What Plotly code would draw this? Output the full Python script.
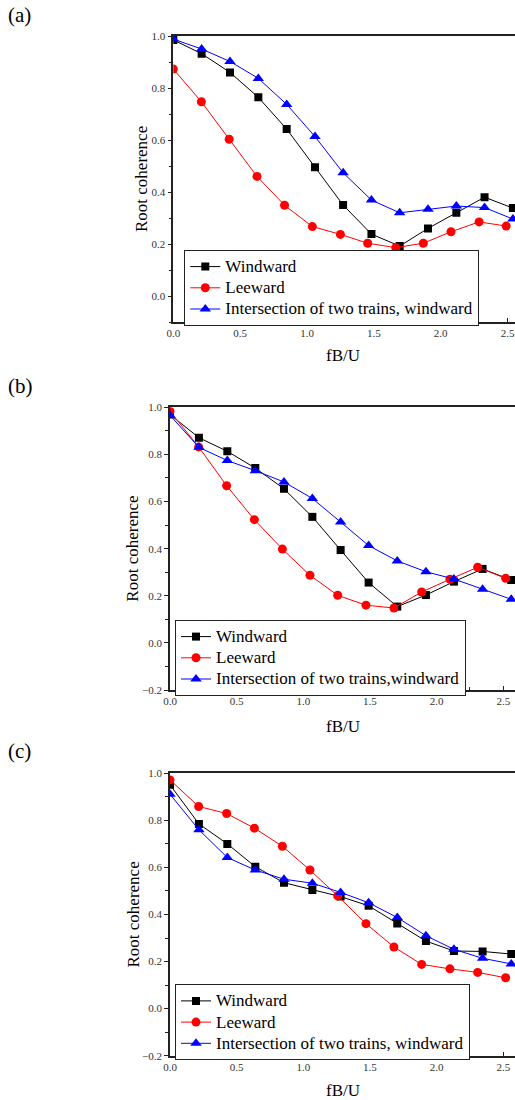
import plotly.graph_objects as go

# ---------------- data ----------------
# Panel (a)
xa_w = [0.0, 0.212, 0.424, 0.636, 0.848, 1.060, 1.270, 1.482, 1.693, 1.905, 2.117, 2.328, 2.540]
ya_w = [0.985, 0.932, 0.860, 0.764, 0.642, 0.495, 0.350, 0.238, 0.192, 0.260, 0.320, 0.380, 0.338]
xa_l = [0.0, 0.210, 0.418, 0.626, 0.832, 1.040, 1.250, 1.454, 1.664, 1.870, 2.077, 2.287, 2.490]
ya_l = [0.873, 0.747, 0.603, 0.460, 0.349, 0.267, 0.237, 0.203, 0.186, 0.203, 0.247, 0.285, 0.269]
xa_i = xa_w
ya_i = [0.988, 0.950, 0.902, 0.837, 0.737, 0.613, 0.474, 0.369, 0.320, 0.334, 0.346, 0.340, 0.296]

# Panel (b)
xb_w = [0.0, 0.217, 0.430, 0.640, 0.855, 1.068, 1.280, 1.490, 1.705, 1.920, 2.130, 2.345, 2.560]
yb_w = [0.969, 0.871, 0.813, 0.742, 0.654, 0.535, 0.394, 0.256, 0.154, 0.203, 0.260, 0.314, 0.267]
xb_l = [0.0, 0.215, 0.425, 0.633, 0.843, 1.050, 1.258, 1.470, 1.680, 1.888, 2.100, 2.308, 2.518]
yb_l = [0.983, 0.832, 0.667, 0.523, 0.398, 0.287, 0.202, 0.160, 0.148, 0.216, 0.270, 0.321, 0.274]
xb_i = xb_w
yb_i = [0.966, 0.830, 0.774, 0.731, 0.683, 0.613, 0.513, 0.413, 0.348, 0.302, 0.271, 0.228, 0.185]

# Panel (c)
xc_w = xb_w
yc_w = [0.951, 0.785, 0.700, 0.603, 0.535, 0.504, 0.476, 0.437, 0.362, 0.287, 0.245, 0.243, 0.232]
xc_l = xb_l
yc_l = [0.972, 0.859, 0.829, 0.767, 0.690, 0.589, 0.479, 0.361, 0.262, 0.188, 0.169, 0.154, 0.131]
xc_i = xb_w
yc_i = [0.911, 0.760, 0.642, 0.589, 0.550, 0.533, 0.494, 0.450, 0.387, 0.310, 0.252, 0.214, 0.190]

names_a = ["Windward", "Leeward", "Intersection of two trains, windward"]
names_b = ["Windward", "Leeward", "Intersection of two trains,windward"]
names_c = ["Windward", "Leeward", "Intersection of two trains, windward"]
panel_labels = ["(a)", "(b)", "(c)"]
x_title = "fB/U"
y_title = "Root coherence"

# ---------------- styling ----------------
W, H = 515, 1100
FONT = "Liberation Serif"
colors = ["#000000", "#ff0000", "#0000ff"]
symbols = ["square", "circle", "triangle-up"]
msizes = [8, 9, 10]

fig = go.Figure()

panels = [
    (xa_w, ya_w, xa_l, ya_l, xa_i, ya_i, names_a),
    (xb_w, yb_w, xb_l, yb_l, xb_i, yb_i, names_b),
    (xc_w, yc_w, xc_l, yc_l, xc_i, yc_i, names_c),
]

# pixel geometry of each plot area: (left, top, bottom, xmax, ymin)
geom = [
    (173.3, 36.0, 322.0, (515 - 173.3) / 133.7, -0.1),
    (170.0, 407.3, 690.0, (515 - 170.0) / 133.3, -0.2),
    (170.0, 773.3, 1055.7, (515 - 170.0) / 133.3, -0.2),
]
legend_pos = [(184.3, 250.0), (175.0, 620.0), (175.0, 984.3)]
label_y = [15, 386, 751]
xtitle_y = [355, 726, 1090]
ytitle_x = [141, 133, 133]

for p, (xw, yw, xl, yl, xi, yi, names) in enumerate(panels):
    sfx = "" if p == 0 else str(p + 1)
    leg = "legend" if p == 0 else "legend" + str(p + 1)
    series = [(xw, yw), (xl, yl), (xi, yi)]
    for k, (xs, ys) in enumerate(series):
        fig.add_trace(go.Scatter(
            x=xs, y=ys, mode="lines+markers",
            name='<span style="font-size:17px">' + names[k] + "</span>",
            line=dict(color=colors[k], width=1),
            marker=dict(symbol=symbols[k], size=msizes[k], color=colors[k]),
            xaxis="x" + sfx, yaxis="y" + sfx, legend=leg,
        ))
    left, top, bottom, xmax, ymin = geom[p]
    axis_common = dict(showgrid=False, zeroline=False, showline=True,
                       linecolor="#222222", linewidth=1.5, automargin=False,
                       tickfont=dict(family=FONT, size=11, color="#333333"),
                       tickcolor="#222222", tickformat=".1f")
    fig.layout["xaxis" + sfx] = dict(
        axis_common, domain=[left / W, 1.0], range=[0, xmax],
        anchor="y" + sfx, mirror=True, ticks="inside", ticklen=4,
        tick0=0, dtick=0.5,
        minor=dict(ticks="inside", ticklen=3, dtick=0.25, tick0=0, tickcolor="#222222"),
    )
    fig.layout["yaxis" + sfx] = dict(
        axis_common, domain=[1 - bottom / H, 1 - top / H], range=[ymin, 1.0],
        anchor="x" + sfx, ticks="outside", ticklen=4, tick0=0, dtick=0.2,
        minor=dict(ticks="outside", ticklen=3, dtick=0.1, tick0=0, tickcolor="#222222"),
    )
    lx, ly = legend_pos[p]
    fig.layout[leg] = dict(
        x=lx / W, y=1 - ly / H, xanchor="left", yanchor="top",
        bordercolor="#222222", borderwidth=1, bgcolor="white",
        font=dict(family=FONT, size=14, color="black"),
        tracegroupgap=0,
    )
    fig.add_annotation(text=panel_labels[p], xref="paper", yref="paper",
                       x=6 / W, y=1 - label_y[p] / H, xanchor="left", yanchor="middle",
                       showarrow=False, font=dict(family=FONT, size=21, color="black"))
    fig.add_annotation(text=x_title, xref="paper", yref="paper",
                       x=343 / W, y=1 - xtitle_y[p] / H, xanchor="center", yanchor="middle",
                       showarrow=False, font=dict(family=FONT, size=17, color="black"))
    fig.add_annotation(text=y_title, xref="paper", yref="paper",
                       x=ytitle_x[p] / W, y=1 - (top + bottom) / 2 / H,
                       xanchor="center", yanchor="middle", textangle=-90,
                       showarrow=False, font=dict(family=FONT, size=17, color="black"))

fig.update_layout(
    width=W, height=H, margin=dict(l=0, r=0, t=0, b=0, pad=0, autoexpand=False),
    paper_bgcolor="white", plot_bgcolor="white",
    font=dict(family=FONT),
    showlegend=True,
)

# remove the default page margin so the figure sits at the window's top-left corner
fig.write_html("out.html",
               config={"displayModeBar": False},
               post_script="document.body.style.margin='0';document.body.style.padding='0';"
                           "document.body.style.overflow='hidden';")
